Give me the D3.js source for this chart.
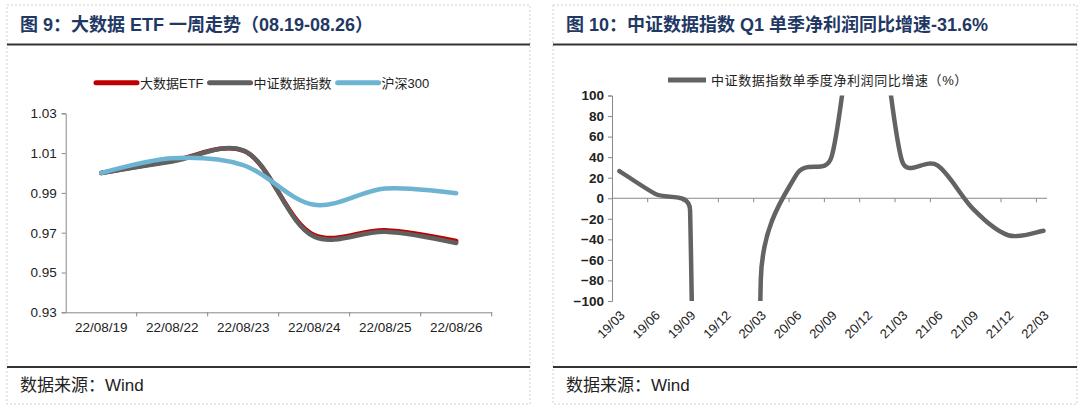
<!DOCTYPE html>
<html>
<head>
<meta charset="utf-8">
<script src="https://cdn.jsdelivr.net/npm/d3@7"></script>
<style>
  body { margin: 0; background: #fff; }
  svg { font-family: "Liberation Sans", Arial, "Noto Sans CJK SC", sans-serif; }
</style>
</head>
<body>
<div id="chart"></div>
<script>
// figure 9 data
var days = ["22/08/19", "22/08/22", "22/08/23", "22/08/24", "22/08/25", "22/08/26"];
var etf = [1.000, 1.0062, 1.0112, 0.9688, 0.9712, 0.9658];
var csi = [1.000, 1.0058, 1.0114, 0.9680, 0.9705, 0.9648];
var hs300 = [1.000, 1.0074, 1.0040, 0.9840, 0.9922, 0.9898];
var leftTicks = [0.93, 0.95, 0.97, 0.99, 1.01, 1.03];

// figure 10 data
var quarters = ["19/03", "19/06", "19/09", "19/12", "20/03", "20/06", "20/09",
  "20/12", "21/03", "21/06", "21/09", "21/12", "22/03"];
var growth = [26.5, 4.5, -12, -3000, -80, 22.5, 40, 240, 36, 32, -10, -36, -31.6];
var rightTicks = [-100, -80, -60, -40, -20, 0, 20, 40, 60, 80, 100];

// smoothing like the spreadsheet: catmull-rom tangents, handles capped at half the segment
function smoothCurve(context) {
  return {
    areaStart: function() {},
    areaEnd: function() {},
    lineStart: function() { this.pts = []; },
    point: function(x, y) { this.pts.push([+x, +y]); },
    lineEnd: function() {
      var p = this.pts, n = p.length;
      if (!n) return;
      context.moveTo(p[0][0], p[0][1]);
      for (var i = 0; i < n - 1; i++) {
        var p0 = p[i - 1] || p[i], p1 = p[i], p2 = p[i + 1], p3 = p[i + 2] || p[i + 1];
        var d = Math.hypot(p2[0] - p1[0], p2[1] - p1[1]);
        var t1 = [p2[0] - p0[0], p2[1] - p0[1]], l1 = Math.hypot(t1[0], t1[1]) || 1;
        var t2 = [p3[0] - p1[0], p3[1] - p1[1]], l2 = Math.hypot(t2[0], t2[1]) || 1;
        var k1 = Math.min(l1 / 6, d / 2) / l1, k2 = Math.min(l2 / 6, d / 2) / l2;
        context.bezierCurveTo(p1[0] + t1[0] * k1, p1[1] + t1[1] * k1,
          p2[0] - t2[0] * k2, p2[1] - t2[1] * k2, p2[0], p2[1]);
      }
    }
  };
}

var svg = d3.select("#chart").append("svg")
  .attr("width", 1080)
  .attr("height", 412);

// panel frames
function panel(x0, x1, title) {
  svg.append("rect")
    .attr("x", x0).attr("y", 5)
    .attr("width", x1 - x0).attr("height", 399)
    .attr("fill", "none")
    .attr("stroke", "#d0d0d0")
    .attr("stroke-dasharray", "2,2");
  svg.append("line")
    .attr("x1", x0).attr("x2", x1)
    .attr("y1", 44.5).attr("y2", 44.5)
    .attr("stroke", "#333").attr("stroke-width", 2);
  svg.append("line")
    .attr("x1", x0).attr("x2", x1)
    .attr("y1", 367).attr("y2", 367)
    .attr("stroke", "#333").attr("stroke-width", 2);
  svg.append("text")
    .attr("x", x0 + 13).attr("y", 31)
    .attr("font-size", 18)
    .attr("font-weight", "bold")
    .attr("fill", "#1f3864")
    .text(title);
  svg.append("text")
    .attr("x", x0 + 13).attr("y", 391)
    .attr("font-size", 17)
    .attr("fill", "#222")
    .text("数据来源：Wind");
}
panel(7, 530, "图 9：大数据 ETF 一周走势（08.19-08.26）");
panel(553, 1077, "图 10：中证数据指数 Q1 单季净利润同比增速-31.6%");

// ---------- left chart ----------
var x1 = d3.scaleBand().domain(days).range([65.7, 491.7]);
var y1 = d3.scaleLinear().domain([0.93, 1.03]).range([312.3, 113.3]);

var gy1 = svg.append("g").attr("transform", "translate(65.7,0)")
  .call(d3.axisLeft(y1).tickValues(leftTicks).tickSize(4).tickPadding(5).tickFormat(d3.format(".2f")));
var gx1 = svg.append("g").attr("transform", "translate(0,312.3)")
  .call(d3.axisBottom(x1).tickSize(0).tickPadding(10));
svg.append("g").selectAll("line")
  .data(days.slice(1).concat(["end"]))
  .enter().append("line")
  .attr("x1", function(d) { return d == "end" ? x1.range()[1] : x1(d); })
  .attr("x2", function(d) { return d == "end" ? x1.range()[1] : x1(d); })
  .attr("y1", 312.3).attr("y2", 316.5)
  .attr("stroke", "#888");

[gy1, gx1].forEach(function(g) {
  g.select(".domain").attr("stroke", "#888");
  g.selectAll(".tick line").attr("stroke", "#888");
  g.selectAll(".tick text").attr("font-size", 13.5).attr("fill", "#222")
    .attr("font-family", "Liberation Sans, Arial, sans-serif");
});

var line1 = d3.line()
  .x(function(d, i) { return x1(days[i]) + x1.bandwidth() / 2; })
  .y(function(d) { return y1(d); })
  .curve(d3.curveCatmullRom.alpha(0.5));

var leftSeries = [
  { name: "大数据ETF", values: etf, color: "#c00000" },
  { name: "中证数据指数", values: csi, color: "#606060" },
  { name: "沪深300", values: hs300, color: "#6db3d2" }
];
leftSeries.forEach(function(s) {
  svg.append("path")
    .attr("d", line1(s.values))
    .attr("fill", "none")
    .attr("stroke", s.color)
    .attr("stroke-width", 4.5)
    .attr("stroke-linecap", "round");
});

// left legend
var legX = 96;
leftSeries.forEach(function(s) {
  svg.append("line")
    .attr("x1", legX).attr("x2", legX + 41)
    .attr("y1", 82.7).attr("y2", 82.7)
    .attr("stroke", s.color).attr("stroke-width", 5)
    .attr("stroke-linecap", "round");
  var t = svg.append("text")
    .attr("x", legX + 44).attr("y", 87.5)
    .attr("font-size", 13)
    .attr("fill", "#222")
    .text(s.name);
  legX = legX + 44 + t.node().getComputedTextLength() + 6;
});

// ---------- right chart ----------
var x2 = d3.scaleLinear().domain([-0.21, 12.1]).range([612, 1047]);
var y2 = d3.scaleLinear().domain([-100, 100]).range([301, 95.5]);

var gy2 = svg.append("g").attr("transform", "translate(612,0)")
  .call(d3.axisLeft(y2).tickValues(rightTicks).tickSize(4).tickPadding(4));
gy2.select(".domain").attr("stroke", "#888");
gy2.selectAll(".tick line").attr("stroke", "#888");
gy2.selectAll(".tick text").attr("font-size", 13.5).attr("font-weight", "bold").attr("fill", "#222");

// zero axis with offset tick marks
svg.append("line")
  .attr("x1", x2(-0.21)).attr("x2", x2(12.1))
  .attr("y1", y2(0)).attr("y2", y2(0))
  .attr("stroke", "#888");
svg.append("g").selectAll("line")
  .data(quarters.slice(1))
  .enter().append("line")
  .attr("x1", function(d, i) { return x2(i + 1 - 0.2); })
  .attr("x2", function(d, i) { return x2(i + 1 - 0.2); })
  .attr("y1", y2(0)).attr("y2", y2(0) + 4)
  .attr("stroke", "#888");

svg.append("g").selectAll("text")
  .data(quarters)
  .enter().append("text")
  .attr("transform", function(d, i) { return "translate(" + (x2(i) + 3) + ",313) rotate(-45)"; })
  .attr("text-anchor", "end")
  .attr("dy", "0.35em")
  .attr("font-size", 13)
  .attr("fill", "#222")
  .text(function(d) { return d; });

svg.append("clipPath").attr("id", "clip2")
  .append("rect")
  .attr("x", 612).attr("y", y2(100))
  .attr("width", 440).attr("height", y2(-100) - y2(100));

var line2 = d3.line()
  .x(function(d, i) { return x2(i); })
  .y(function(d) { return y2(d); })
  .curve(smoothCurve);

svg.append("path")
  .attr("d", line2(growth))
  .attr("clip-path", "url(#clip2)")
  .attr("fill", "none")
  .attr("stroke", "#636363")
  .attr("stroke-width", 4.5)
  .attr("stroke-linecap", "round");

// right legend
svg.append("line")
  .attr("x1", 668).attr("x2", 706)
  .attr("y1", 80).attr("y2", 80)
  .attr("stroke", "#636363").attr("stroke-width", 5);
svg.append("text")
  .attr("x", 711).attr("y", 84.7)
  .attr("font-size", 13)
  .attr("fill", "#222")
  .attr("letter-spacing", 0.6)
  .text("中证数据指数单季度净利润同比增速（%）");
</script>
</body>
</html>
